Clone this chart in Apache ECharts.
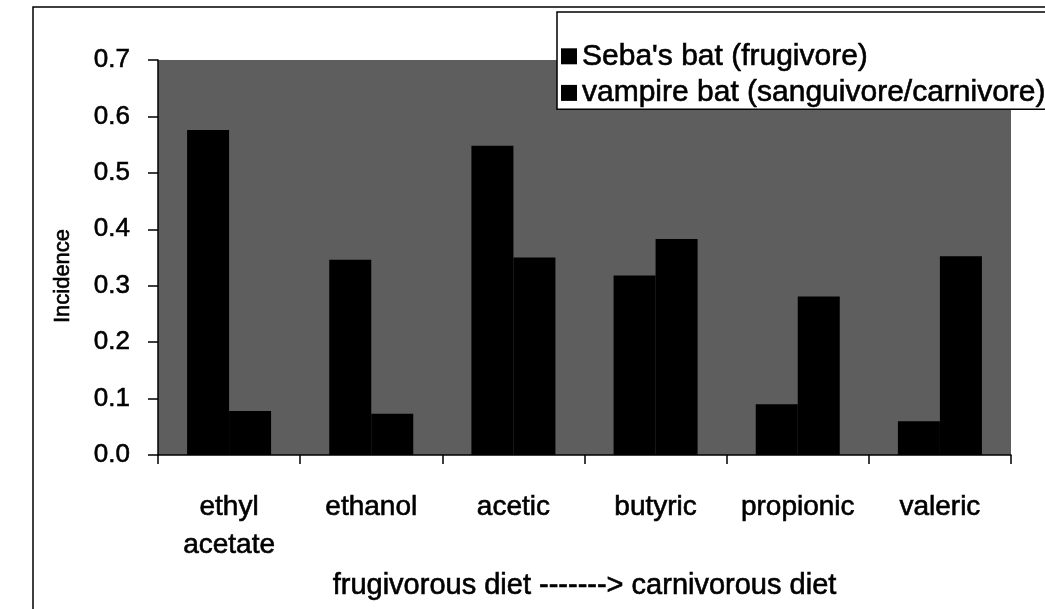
<!DOCTYPE html>
<html>
<head>
<meta charset="utf-8">
<script src="https://cdn.jsdelivr.net/npm/echarts@6/dist/echarts.min.js"></script>
<style>
html,body{margin:0;padding:0;background:#fff;}
#chart{width:1045px;height:609px;}
</style>
</head>
<body>
<div id="chart"></div>
<script>
const categories = ['ethyl\nacetate', 'ethanol', 'acetic', 'butyric', 'propionic', 'valeric'];
const sebaBat = [0.576, 0.346, 0.548, 0.318, 0.090, 0.060];
const vampireBat = [0.078, 0.073, 0.350, 0.383, 0.281, 0.352];
const seriesNames = ["Seba's bat (frugivore)", 'vampire bat (sanguivore/carnivore)'];
const yAxisTitle = 'Incidence';
const xAxisTitle = 'frugivorous diet -------> carnivorous diet';

const FONT = '"Liberation Sans", Arial, sans-serif';
const thick = {textBorderColor: '#000', textBorderWidth: 0.6};
const chart = echarts.init(document.getElementById('chart'), null, {renderer: 'canvas'});
chart.setOption({
  animation: false,
  backgroundColor: '#fff',
  textStyle: {fontFamily: FONT, color: '#000'},
  graphic: [{
    type: 'rect', z: -10, silent: true,
    shape: {x: 33, y: 7, width: 1040, height: 640},
    style: {fill: 'none', stroke: '#000', lineWidth: 1.5}
  }, {
    type: 'text', silent: true,
    x: 63, y: 276, rotation: Math.PI / 2,
    style: {
      text: yAxisTitle, fontFamily: FONT, fontSize: 22, fill: '#000',
      align: 'center', verticalAlign: 'middle', stroke: '#000', lineWidth: 0.6
    }
  }],
  grid: {
    left: 158, right: 34, top: 60, bottom: 154,
    show: true, backgroundColor: '#5e5e5e', borderWidth: 0
  },
  legend: {
    orient: 'vertical',
    left: 557, top: 12,
    backgroundColor: '#fff',
    borderColor: '#000', borderWidth: 1.5, borderRadius: 0,
    padding: [29, 30, 1, 4],
    itemGap: 6,
    itemWidth: 16, itemHeight: 16,
    icon: 'rect',
    textStyle: Object.assign({fontFamily: FONT, fontSize: 30, color: '#000'}, thick),
    data: seriesNames
  },
  xAxis: {
    type: 'category',
    data: categories,
    name: xAxisTitle,
    nameLocation: 'middle',
    nameGap: 116,
    nameTextStyle: Object.assign({fontFamily: FONT, fontSize: 29, color: '#000'}, thick),
    axisLine: {show: true, lineStyle: {color: '#000', width: 1.5}},
    axisTick: {show: true, length: 9, lineStyle: {color: '#000', width: 1.5}},
    axisLabel: Object.assign({interval: 0, fontFamily: FONT, fontSize: 28, color: '#000', lineHeight: 38, margin: 33}, thick)
  },
  yAxis: {
    type: 'value',
    min: 0, max: 0.7, interval: 0.1,
    axisLine: {show: true, lineStyle: {color: '#000', width: 1.5}},
    axisTick: {show: true, length: 10, lineStyle: {color: '#000', width: 1.5}},
    axisLabel: Object.assign({fontFamily: FONT, fontSize: 26, color: '#000', margin: 28, formatter: v => v.toFixed(1)}, thick),
    splitLine: {show: false}
  },
  series: [
    {name: seriesNames[0], type: 'bar', data: sebaBat, barWidth: 42, barGap: '0%', itemStyle: {color: '#000'}},
    {name: seriesNames[1], type: 'bar', data: vampireBat, barWidth: 42, barGap: '0%', itemStyle: {color: '#000'}}
  ]
});
</script>
</body>
</html>
